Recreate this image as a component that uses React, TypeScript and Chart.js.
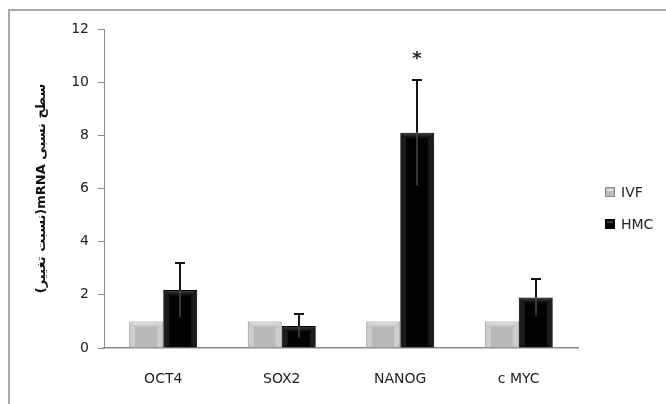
import React, { useEffect, useRef } from "react";
import { Chart, registerables } from "chart.js";

Chart.register(...registerables);

const categories = ["OCT4", "SOX2", "NANOG", "c MYC"];
const seriesNames = ["IVF", "HMC"];
const ivfValues = [1, 1, 1, 1];
const hmcValues = [2.18, 0.83, 8.1, 1.9];
const hmcErrors = [1.02, 0.44, 1.98, 0.68];
const significance = ["", "", "*", ""];
const yTicks = [0, 2, 4, 6, 8, 10, 12];
const yTitle = "\u202Bسطح نسبی mRNA(نسبت تغییر)\u202C";

const seriesColors = ["#b9b9b9", "#030303"];
const seriesBorders = ["#8a8a8a", "#000000"];
const bevelTop = ["#e4e4e4", "#3a3a3a"];
const bevelSide = ["#cdcdcd", "#1c1c1c"];
const FONT = "DejaVu Sans";

const framePlugin = {
  id: "frame",
  beforeDraw(chart: any) {
    const ctx = chart.ctx;
    ctx.save();
    ctx.fillStyle = "#ffffff";
    ctx.fillRect(0, 0, chart.width, chart.height);
    ctx.strokeStyle = "#aaaaaa";
    ctx.lineWidth = 2;
    ctx.beginPath();
    ctx.moveTo(9, chart.height);
    ctx.lineTo(9, 10);
    ctx.lineTo(chart.width, 10);
    ctx.stroke();
    ctx.restore();
  },
};

const bevelPlugin = {
  id: "bevel",
  afterDatasetsDraw(chart: any) {
    const ctx = chart.ctx;
    ctx.save();
    [0, 1].forEach((di) => {
      const meta = chart.getDatasetMeta(di);
      meta.data.forEach((bar: any) => {
        const l = bar.x - bar.width / 2 + 1;
        const r = bar.x + bar.width / 2 - 1;
        const t = bar.y + 1;
        const b = bar.base - 1;
        const d = Math.min(5, (b - t) / 2);
        const g = ctx.createLinearGradient(0, t, 0, t + d);
        g.addColorStop(0, bevelTop[di]);
        g.addColorStop(1, seriesColors[di]);
        ctx.fillStyle = bevelSide[di];
        ctx.beginPath();
        ctx.moveTo(l, t);
        ctx.lineTo(l + d, t + d);
        ctx.lineTo(l + d, b);
        ctx.lineTo(l, b);
        ctx.closePath();
        ctx.fill();
        ctx.beginPath();
        ctx.moveTo(r, t);
        ctx.lineTo(r - d, t + d);
        ctx.lineTo(r - d, b);
        ctx.lineTo(r, b);
        ctx.closePath();
        ctx.fill();
        ctx.fillStyle = g;
        ctx.beginPath();
        ctx.moveTo(l, t);
        ctx.lineTo(r, t);
        ctx.lineTo(r - d, t + d);
        ctx.lineTo(l + d, t + d);
        ctx.closePath();
        ctx.fill();
      });
    });
    ctx.restore();
  },
};

const errorPlugin = {
  id: "errors",
  afterDatasetsDraw(chart: any) {
    const ctx = chart.ctx;
    const y = chart.scales.y;
    const meta = chart.getDatasetMeta(1);
    ctx.save();
    meta.data.forEach((bar: any, i: number) => {
      const x = Math.round(bar.x);
      const vTop = y.getPixelForValue(hmcValues[i] + hmcErrors[i]);
      const vMid = y.getPixelForValue(hmcValues[i]);
      const vBot = y.getPixelForValue(hmcValues[i] - hmcErrors[i]);
      ctx.lineWidth = 2;
      ctx.strokeStyle = "#151515";
      ctx.beginPath();
      ctx.moveTo(x, vTop);
      ctx.lineTo(x, vMid);
      ctx.moveTo(x - 5, Math.round(vTop));
      ctx.lineTo(x + 5, Math.round(vTop));
      ctx.stroke();
      ctx.strokeStyle = "#4a4a4a";
      ctx.lineWidth = 1.5;
      ctx.beginPath();
      ctx.moveTo(x, vMid);
      ctx.lineTo(x, vBot);
      ctx.stroke();
      if (significance[i]) {
        ctx.fillStyle = "#222222";
        ctx.font = `bold 18px ${FONT}`;
        ctx.textAlign = "center";
        ctx.textBaseline = "middle";
        ctx.fillText(significance[i], x, vTop - 21);
      }
    });
    ctx.restore();
  },
};

const legendPlugin = {
  id: "customLegend",
  afterDraw(chart: any) {
    const ctx = chart.ctx;
    ctx.save();
    seriesNames.forEach((name, i) => {
      const cy = 192 + i * 32;
      ctx.fillStyle = seriesColors[i];
      ctx.fillRect(606, cy - 4, 8, 8);
      ctx.fillStyle = bevelTop[i];
      ctx.fillRect(607, cy - 3, 6, 2);
      ctx.strokeStyle = seriesBorders[i];
      ctx.lineWidth = 1;
      ctx.strokeRect(605.5, cy - 4.5, 9, 9);
      ctx.fillStyle = "#222222";
      ctx.font = `14px ${FONT}`;
      ctx.textAlign = "left";
      ctx.textBaseline = "middle";
      ctx.fillText(name, 621, cy + 1);
    });
    ctx.restore();
  },
};

export default function App() {
  const ref = useRef<HTMLCanvasElement>(null);
  useEffect(() => {
    const chart = new Chart(ref.current as HTMLCanvasElement, {
      type: "bar",
      data: {
        labels: categories,
        datasets: [
          {
            label: seriesNames[0],
            data: ivfValues,
            backgroundColor: seriesColors[0],
            borderColor: seriesBorders[0],
            borderWidth: 1,
          },
          {
            label: seriesNames[1],
            data: hmcValues,
            backgroundColor: seriesColors[1],
            borderColor: seriesBorders[1],
            borderWidth: 1,
          },
        ],
      },
      options: {
        responsive: false,
        animation: false,
        events: [],
        categoryPercentage: 0.574,
        barPercentage: 1,
        layout: { padding: { left: 0, right: 88, top: 29, bottom: 0 } },
        plugins: {
          legend: { display: false },
          tooltip: { enabled: false },
          title: { display: false },
        },
        scales: {
          x: {
            grid: { display: false, drawTicks: false },
            border: { display: true, color: "#8c8c8c", width: 1.5 },
            ticks: {
              color: "#222222",
              font: { family: FONT, size: 14 },
              padding: 23,
              maxRotation: 0,
            },
            afterFit: (s: any) => {
              s.height = 56;
            },
          },
          y: {
            min: 0,
            max: 12,
            afterBuildTicks: (s: any) => {
              s.ticks = yTicks.map((v) => ({ value: v }));
            },
            ticks: {
              color: "#222222",
              font: { family: FONT, size: 14 },
              padding: 9,
            },
            grid: {
              display: true,
              drawOnChartArea: false,
              drawTicks: true,
              tickLength: 6,
              color: "#8c8c8c",
            },
            border: { display: true, color: "#8c8c8c" },
            title: {
              display: true,
              text: yTitle,
              color: "#111111",
              font: { family: FONT, size: 13, weight: "bold" },
              padding: { top: 34, bottom: 0 },
            },
            afterFit: (s: any) => {
              s.width = 104;
            },
          },
        },
      },
      plugins: [framePlugin, bevelPlugin, errorPlugin, legendPlugin],
    } as any);
    return () => chart.destroy();
  }, []);
  return (
    <div style={{ position: "absolute", left: 0, top: 0, width: 666, height: 404 }}>
      <canvas ref={ref} width={666} height={404} style={{ display: "block" }} />
    </div>
  );
}
